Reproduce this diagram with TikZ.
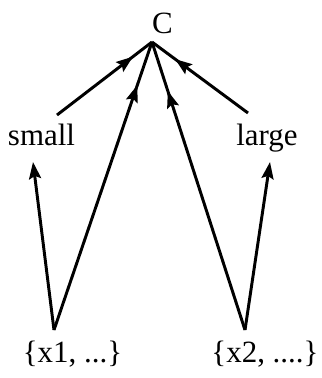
\documentclass[tikz,border=0pt]{standalone}
\usepackage{fontspec}
\setmainfont{Liberation Serif}
\usetikzlibrary{arrows.meta, decorations.markings}

\begin{document}
\begin{tikzpicture}[
  x=0.025cm, y=-0.025cm,
  word/.style={font=\fontsize{22}{26}\selectfont,inner sep=0pt,anchor=base},
  tip/.style={-{Stealth[length=0.42cm,width=0.3cm,inset=0.07cm]},line width=2.1pt},
  midtip/.style={line width=2.1pt,postaction={decorate},
    decoration={markings,mark=at position #1 with {\arrow{Stealth[length=0.42cm,width=0.3cm,inset=0.07cm]}}}}]
  \useasboundingbox (0,0) rectangle (322,378);
  % labels
  \node[word] (c) at (162.5,33) {C};
  \node[word] (small) at (41.5,145) {small};
  \node[word] (large) at (267,145) {large};
  \node[word] (xone) at (72.5,362) {\{x1, ...\}};
  \node[word] (xtwo) at (265,362) {\{x2, ....\}};
  % line ends
  \coordinate (top) at (152,42);
  \coordinate (smallup) at (57,115);
  \coordinate (smalldown) at (33,162);
  \coordinate (largeup) at (248,113);
  \coordinate (largedown) at (270,162);
  \coordinate (xonetop) at (54,330);
  \coordinate (xtwotop) at (245,330);
  % connectors
  \draw[midtip=0.8] (smallup) -- (top);
  \draw[midtip=0.76] (largeup) -- (top);
  \draw[midtip=0.85] (xonetop) -- (top);
  \draw[midtip=0.83] (xtwotop) -- (top);
  \draw[tip] (xonetop) -- (smalldown);
  \draw[tip] (xtwotop) -- (largedown);
\end{tikzpicture}
\end{document}
